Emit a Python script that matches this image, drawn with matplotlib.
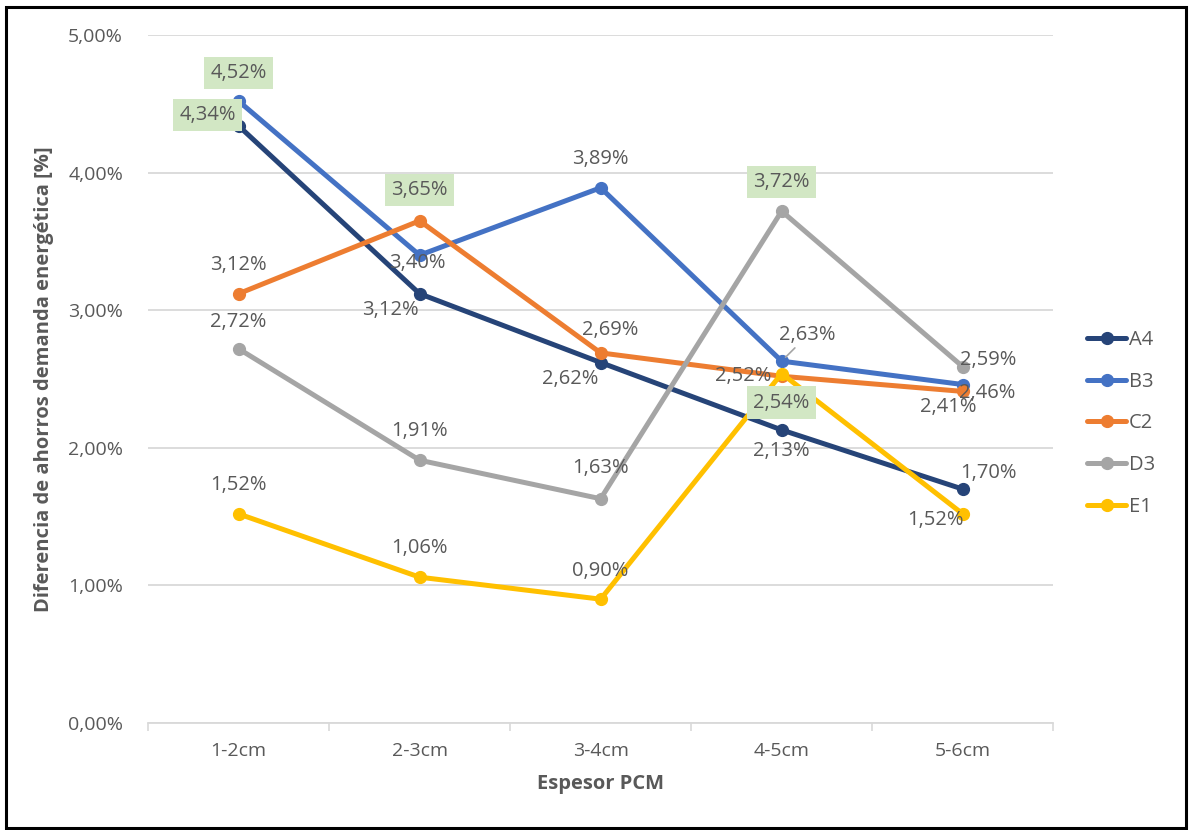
import matplotlib.pyplot as plt
from matplotlib.ticker import FuncFormatter, FixedLocator

categories = ["1-2cm", "2-3cm", "3-4cm", "4-5cm", "5-6cm"]
series_names = ["A4", "B3", "C2", "D3", "E1"]
a4 = [4.34, 3.12, 2.62, 2.13, 1.70]
b3 = [4.52, 3.40, 3.89, 2.63, 2.46]
c2 = [3.12, 3.65, 2.69, 2.52, 2.41]
d3 = [2.72, 1.91, 1.63, 3.72, 2.59]
e1 = [1.52, 1.06, 0.90, 2.54, 1.52]

colors = ["#264478", "#4472C4", "#ED7D31", "#A5A5A5", "#FFC000"]

# label offsets in pixels (dx, dy) for each point
offsets = [
    [(-31, 11), (-29, -16), (-30, -16), (0, -21), (26, 16)],
    [(0, 28), (-2, -8), (0, 29), (26, 26), (25, -8)],
    [(0, 29), (0, 31), (10, 23), (-38, 0), (-14, -16)],
    [(0, 27), (0, 29), (0, 31), (0, 29), (26, 7)],
    [(0, 29), (0, 29), (0, 28), (0, -29), (-27, -6)],
]
# labels shown with a green highlight
highlight = {(0, 0), (1, 0), (2, 1), (3, 3), (4, 3)}

text_color = "#595959"
plt.rcParams["font.family"] = ["Open Sans", "DejaVu Sans"]

fig = plt.figure(figsize=(11.91, 8.30), dpi=100)
ax = fig.add_axes([0.1243, 0.1289, 0.7600, 0.8289])

x = list(range(len(categories)))
data = [a4, b3, c2, d3, e1]
lines = []
for i, (name, vals) in enumerate(zip(series_names, data)):
    ln, = ax.plot(x, vals, color=colors[i], lw=3.6, marker="o", ms=8.5,
                  solid_capstyle="round", zorder=3 + i, label=name)
    lines.append(ln)

for i, vals in enumerate(data):
    for j, v in enumerate(vals):
        dx, dy = offsets[i][j]
        label = f"{v:.2f}%".replace(".", ",")
        kw = {}
        if (i, j) in highlight:
            kw["bbox"] = dict(boxstyle="square,pad=0.3", fc="#D2E7C4", ec="none")
        if (i, j) == (1, 3):
            kw["arrowprops"] = dict(arrowstyle="-", color="#A5A5A5", lw=1.2,
                                    shrinkA=0, shrinkB=4)
        ax.annotate(label, (j, v), xytext=(dx, dy), textcoords="offset pixels",
                    ha="center", va="center", fontsize=14.5, color=text_color,
                    zorder=20, **kw)

ax.set_xlim(-0.5, 4.5)
ax.set_ylim(0, 5)
ax.set_yticks([0, 1, 2, 3, 4, 5])
ax.yaxis.set_major_formatter(FuncFormatter(lambda v, p: f"{v:.2f}%".replace(".", ",")))
ax.set_xticks(x)
ax.set_xticklabels(categories)
ax.xaxis.set_minor_locator(FixedLocator([-0.5, 0.5, 1.5, 2.5, 3.5, 4.5]))
ax.tick_params(axis="x", which="major", length=0, pad=14, labelsize=14, labelcolor=text_color)
ax.tick_params(axis="x", which="minor", length=6, color="#D9D9D9", width=1.2)
ax.tick_params(axis="y", length=0, pad=18, labelsize=14, labelcolor=text_color)
ax.grid(axis="y", color="#D9D9D9", lw=1.3, zorder=0)
for s in ["top", "right", "left"]:
    ax.spines[s].set_visible(False)
ax.spines["bottom"].set_color("#D9D9D9")
ax.spines["bottom"].set_linewidth(1.3)

ax.set_xlabel("Espesor PCM", fontsize=14.5, fontweight="bold", color=text_color, labelpad=10)
ax.set_ylabel("Diferencia de ahorros demanda energética [%]", fontsize=14.5,
              fontweight="bold", color=text_color, labelpad=10)

fig.legend(handles=lines, loc="center left", bbox_to_anchor=(0.913, 0.49),
           frameon=False, fontsize=14.5, labelcolor=text_color, handlelength=1.9,
           handletextpad=0.15, labelspacing=1.08, borderpad=0, borderaxespad=0)

# outer frame around the whole chart
fig.patches.append(plt.Rectangle((0.005, 0.003), 0.991, 0.988, transform=fig.transFigure,
                                 fill=False, ec="black", lw=2.2))

fig.savefig("out.png", dpi=100)
